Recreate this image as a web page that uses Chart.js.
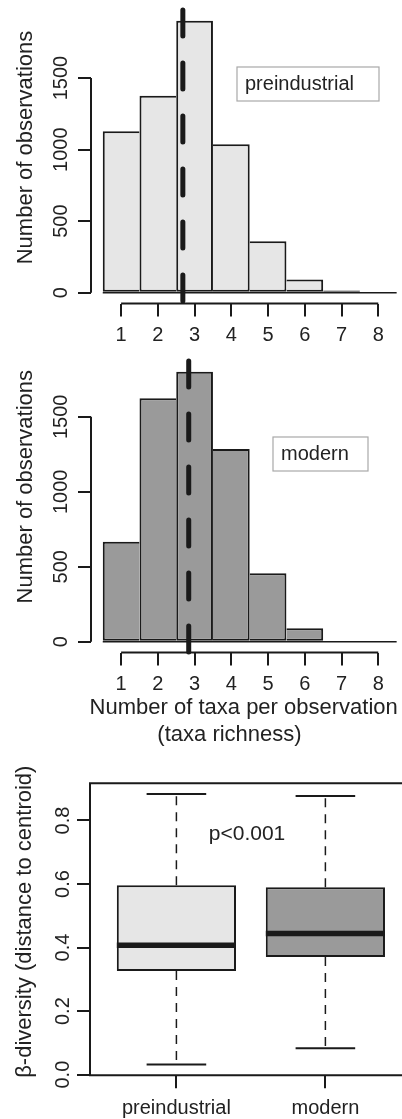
<!DOCTYPE html>
<html lang="en">
<head>
<meta charset="utf-8">
<title>Taxa richness and beta diversity</title>
<script src="https://cdn.jsdelivr.net/npm/chart.js@4.4.1/dist/chart.umd.min.js"></script>
<style>
  html, body { margin: 0; padding: 0; background: #fff; overflow: hidden; }
  #page { position: relative; width: 402px; height: 1119px; overflow: hidden; }
  canvas { position: absolute; left: 0; }
</style>
</head>
<body>
<div id="page">
  <canvas id="histPre" width="420" height="350" style="top:0"></canvas>
  <canvas id="histMod" width="420" height="420" style="top:340px"></canvas>
  <canvas id="betaBox" width="420" height="374" style="top:745px"></canvas>
</div>
<script>
Chart.defaults.font.family = "'Liberation Sans', Arial, Helvetica, sans-serif";
Chart.defaults.color = '#222';
Chart.defaults.animation = false;

// number of taxa per observation (histogram bins) and counts
const richness = [1, 2, 3, 4, 5, 6, 7, 8];
const countsPre = [1129, 1376, 1900, 1038, 359, 92, 15, 0];
const countsMod = [667, 1623, 1800, 1285, 456, 89, 0, 0];
const meanPre = 2.68;   // dashed line = mean richness
const meanMod = 2.84;
const countTicks = [0, 500, 1000, 1500];

// beta diversity (distance to centroid), boxplot stats
const groups = ['preindustrial', 'modern'];
const whiskLo = [0.032, 0.083];
const quart1 = [0.326, 0.370];
const medians = [0.407, 0.444];
const quart3 = [0.596, 0.590];
const whiskHi = [0.883, 0.877];
const betaTicks = [0, 0.2, 0.4, 0.6, 0.8];

const ink = '#1a1a1a';
const lightGrey = '#e6e6e6';
const darkGrey = '#9a9a9a';
const tickGrid = { offset: false, drawOnChartArea: false, drawTicks: true, tickLength: 13, color: ink, lineWidth: 2 };

// axis lines like R: only from first to last tick, or a full box around the plot
const rAxes = {
  id: 'rAxes',
  afterDatasetsDraw(chart, args, opts) {
    const { ctx, chartArea: a, scales: { x, y } } = chart;
    ctx.save();
    ctx.strokeStyle = ink;
    ctx.lineWidth = 2;
    ctx.beginPath();
    if (opts.frame) {
      ctx.rect(a.left, a.top, a.right - a.left, a.bottom - a.top);
    } else {
      ctx.moveTo(a.left, y.getPixelForValue(y.ticks[0].value));
      ctx.lineTo(a.left, y.getPixelForValue(y.ticks[y.ticks.length - 1].value));
      ctx.moveTo(x.getPixelForValue(x.ticks[0].value), a.bottom);
      ctx.lineTo(x.getPixelForValue(x.ticks[x.ticks.length - 1].value), a.bottom);
    }
    ctx.stroke();
    ctx.restore();
  }
};

// axis titles, legend boxes and the p-value note
const captions = {
  id: 'captions',
  afterDraw(chart, args, opts) {
    const ctx = chart.ctx;
    const family = Chart.defaults.font.family;
    (opts.boxes || []).forEach(b => {
      ctx.save();
      ctx.strokeStyle = '#a8a8a8';
      ctx.lineWidth = 1.2;
      ctx.strokeRect(b.x, b.y, b.w, b.h);
      ctx.font = '20px ' + family;
      ctx.fillStyle = '#222';
      ctx.textAlign = 'left';
      ctx.textBaseline = 'middle';
      ctx.fillText(b.text, b.x + 8, b.y + b.h / 2);
      ctx.restore();
    });
    (opts.items || []).forEach(c => {
      ctx.save();
      ctx.translate(c.x, c.y);
      if (c.rotate) ctx.rotate(c.rotate * Math.PI / 180);
      ctx.font = (c.size || 22) + 'px ' + family;
      ctx.fillStyle = '#222';
      ctx.textAlign = 'center';
      ctx.textBaseline = 'middle';
      ctx.fillText(c.text, 0, 0);
      ctx.restore();
    });
  }
};

// shared bar edges are drawn once, by the taller bar
function sharedEdgeSkip(c) {
  const d = c.dataset.data, i = c.dataIndex;
  if (i < d.length - 1 && d[i + 1].y > d[i].y) return 'right';
  if (i > 0 && d[i - 1].y >= d[i].y) return 'left';
  return false;
}

function histConfig(counts, mean, fill, padTop, xHeight, captionOpts) {
  const lo = richness[0] - 0.5;
  const hi = richness[richness.length - 1] + 0.5;
  const xPad = 0.04 * (hi - lo);
  const peak = Math.max(...counts);
  const yMin = -0.04 * peak, yMax = 1.04 * peak;
  return {
    type: 'bar',
    data: {
      datasets: [
        { type: 'line', data: [{ x: mean, y: yMax }, { x: mean, y: yMin }], borderColor: ink, borderWidth: 5,
          borderDash: [26, 27], borderCapStyle: 'round', pointRadius: 0, clip: false, order: 0 },
        { type: 'line', data: [{ x: lo, y: 0 }, { x: hi, y: 0 }], borderColor: ink, borderWidth: 1.5,
          pointRadius: 0, order: 1 },
        { data: richness.map((r, i) => ({ x: r, y: counts[i] })), backgroundColor: fill, borderColor: ink,
          borderWidth: 2, borderSkipped: sharedEdgeSkip, inflateAmount: 0, barPercentage: 1, categoryPercentage: 1, order: 2 }
      ]
    },
    options: {
      responsive: false,
      events: [],
      layout: { padding: { top: padTop, right: 11.6, bottom: 0, left: 0 } },
      plugins: { legend: { display: false }, tooltip: { enabled: false }, rAxes: { frame: false }, captions: captionOpts },
      scales: {
        x: {
          type: 'linear', offset: false, bounds: 'data', min: lo - xPad, max: hi + xPad,
          afterBuildTicks: s => { s.ticks = richness.map(v => ({ value: v })); },
          afterFit: s => { s.height = xHeight; },
          grid: tickGrid, border: { display: false },
          ticks: { autoSkip: false, maxRotation: 0, padding: 7, font: { size: 20 }, color: '#222' }
        },
        y: {
          type: 'linear', offset: false, bounds: 'data', min: yMin, max: yMax,
          afterBuildTicks: s => { s.ticks = countTicks.map(v => ({ value: v })); },
          afterFit: s => { s.width = 91; },
          grid: tickGrid, border: { display: false },
          ticks: { minRotation: 90, maxRotation: 90, crossAlign: 'center', padding: -6, font: { size: 20 }, color: '#222',
                   callback: v => String(v) }
        }
      }
    },
    plugins: [rAxes, captions]
  };
}

new Chart(document.getElementById('histPre').getContext('2d'),
  histConfig(countsPre, meanPre, lightGrey, 10, 46.4, {
    items: [{ text: 'Number of observations', x: 25.7, y: 147.5, rotate: -90 }],
    boxes: [{ text: 'preindustrial', x: 237, y: 67, w: 142, h: 34 }]
  }));

new Chart(document.getElementById('histMod').getContext('2d'),
  histConfig(countsMod, meanMod, darkGrey, 21, 107.5, {
    items: [
      { text: 'Number of observations', x: 25.7, y: 146.7, rotate: -90 },
      { text: 'Number of taxa per observation', x: 243.7, y: 368.3 },
      { text: '(taxa richness)', x: 229.5, y: 395.3 }
    ],
    boxes: [{ text: 'modern', x: 273, y: 97, w: 95, h: 34 }]
  }));

// boxplot
const boxPos = groups.map((g, i) => i + 1);
const boxWex = 0.8;
function segment(x0, y0, x1, y1, width, dash, order) {
  return { type: 'line', data: [{ x: x0, y: y0 }, { x: x1, y: y1 }], borderColor: ink, borderWidth: width,
           borderDash: dash, pointRadius: 0, order: order };
}
const boxSets = [];
boxPos.forEach((p, i) => {
  boxSets.push(segment(p - boxWex / 2, medians[i], p + boxWex / 2, medians[i], 5.5, [], 0));
  boxSets.push(segment(p, quart3[i], p, whiskHi[i], 1.5, [9, 7], 1));
  boxSets.push(segment(p, quart1[i], p, whiskLo[i], 1.5, [9, 7], 1));
  boxSets.push(segment(p - boxWex / 4, whiskHi[i], p + boxWex / 4, whiskHi[i], 2, [], 1));
  boxSets.push(segment(p - boxWex / 4, whiskLo[i], p + boxWex / 4, whiskLo[i], 2, [], 1));
});
boxSets.push({
  data: boxPos.map((p, i) => ({ x: p, y: [quart1[i], quart3[i]] })),
  backgroundColor: [lightGrey, darkGrey], borderColor: ink, borderWidth: 2, borderSkipped: false,
  inflateAmount: 0, barPercentage: boxWex, categoryPercentage: 1, order: 2
});

const betaLo = Math.min(...whiskLo), betaHi = Math.max(...whiskHi);
const betaPad = 0.04 * (betaHi - betaLo);
const xSpan = groups.length;

new Chart(document.getElementById('betaBox').getContext('2d'), {
  type: 'bar',
  data: { datasets: boxSets },
  options: {
    responsive: false,
    events: [],
    layout: { padding: { top: 38.3, right: 8.2, bottom: 0, left: 0 } },
    plugins: {
      legend: { display: false }, tooltip: { enabled: false },
      rAxes: { frame: true },
      captions: {
        items: [
          { text: 'β-diversity (distance to centroid)', x: 25.4, y: 176.7, rotate: -90 },
          { text: 'p<0.001', x: 247, y: 89.4, size: 21 }
        ]
      }
    },
    scales: {
      x: {
        type: 'linear', offset: false, bounds: 'data', min: 0.5 - 0.04 * xSpan, max: xSpan + 0.5 + 0.04 * xSpan,
        afterBuildTicks: s => { s.ticks = boxPos.map(v => ({ value: v })); },
        afterFit: s => { s.height = 43.7; },
        grid: tickGrid, border: { display: false },
        ticks: { autoSkip: false, maxRotation: 0, padding: 8, font: { size: 20 }, color: '#222',
                 callback: v => groups[Math.round(v) - 1] }
      },
      y: {
        type: 'linear', offset: false, bounds: 'data', min: betaLo - betaPad, max: betaHi + betaPad,
        afterBuildTicks: s => { s.ticks = betaTicks.map(v => ({ value: v })); },
        afterFit: s => { s.width = 90; },
        grid: tickGrid, border: { display: false },
        ticks: { minRotation: 90, maxRotation: 90, crossAlign: 'center', padding: 0, font: { size: 20 }, color: '#222',
                 callback: v => v.toFixed(1) }
      }
    }
  },
  plugins: [rAxes, captions]
});
</script>
</body>
</html>
